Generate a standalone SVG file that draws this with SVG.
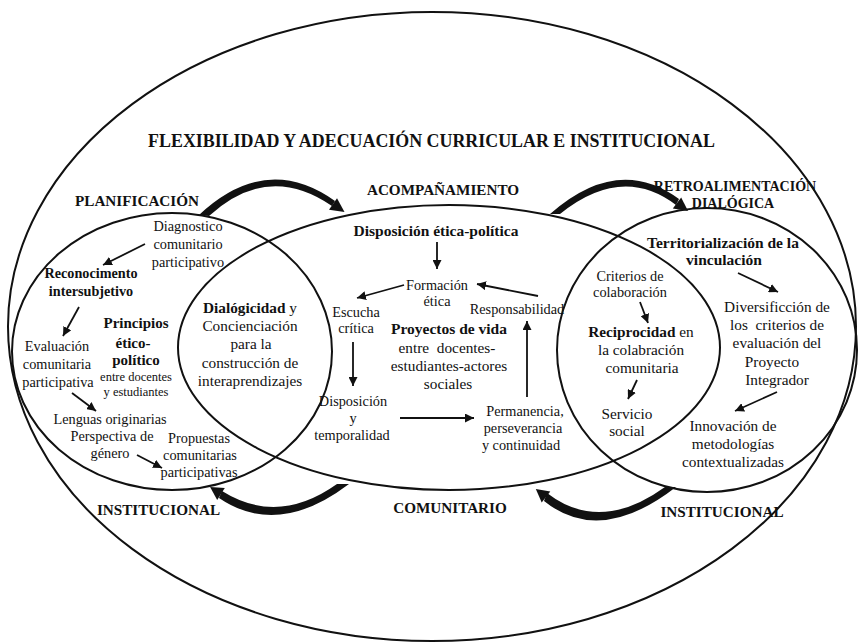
<svg xmlns="http://www.w3.org/2000/svg" width="859" height="643" viewBox="0 0 859 643">
<style>
text{font-family:"Liberation Serif","Times New Roman",serif;fill:#111;text-anchor:middle}
.b{font-weight:bold}
.h{font-weight:bold;font-size:15.2px}
.t14{font-size:14.3px}
.t15{font-size:15.3px}
.sm{font-size:12.5px}
.ring{fill:none;stroke:#111;stroke-width:2}
.ln{fill:none;stroke:#111;stroke-width:1.8;marker-end:url(#ah)}
.thick{fill:#111;stroke:none}
</style>
<defs>
<marker id="ah" markerUnits="userSpaceOnUse" markerWidth="10" markerHeight="9" refX="9" refY="4.5" orient="auto">
<path d="M0,0 L9,4.5 L0,9 z" fill="#111"/>
</marker>
</defs>
<rect width="859" height="643" fill="#fff"/>

<g id="outer">
<ellipse class="ring" cx="432" cy="326.5" rx="424" ry="314.5"/>
<text class="b" x="431.5" y="147" font-size="17.9">FLEXIBILIDAD Y ADECUACIÓN CURRICULAR E INSTITUCIONAL</text>
</g>

<g id="planificacion">
<ellipse class="ring" cx="172" cy="351.5" rx="160" ry="138.5"/>
<text class="h" x="137" y="206">PLANIFICACIÓN</text>
<text class="t14" x="188" y="231">Diagnostico</text>
<text class="t14" x="188" y="249">comunitario</text>
<text class="t14" x="188" y="267">participativo</text>
<text class="b" font-size="14.2" x="91" y="278">Reconocimento</text>
<text class="b" font-size="14.2" x="91" y="296">intersubjetivo</text>
<text class="b" font-size="15" x="136" y="328">Principios</text>
<text class="b" font-size="15" x="133" y="348">ético-</text>
<text class="b" font-size="15" x="136" y="365">político</text>
<text class="sm" x="136" y="381">entre docentes</text>
<text class="sm" x="136" y="396">y estudiantes</text>
<text class="t14" x="57" y="351">Evaluación</text>
<text class="t14" x="57" y="369">comunitaria</text>
<text class="t14" x="58" y="387">participativa</text>
<text class="t14" x="110" y="424">Lenguas originarias</text>
<text class="t14" x="112" y="441">Perspectiva de</text>
<text class="t14" x="110" y="458">género</text>
<text class="t14" x="199" y="443">Propuestas</text>
<text class="t14" x="200" y="460">comunitarias</text>
<text class="t14" x="199" y="477">participativas</text>
<text class="h" x="158.5" y="515">INSTITUCIONAL</text>
</g>

<g id="acompanamiento">
<ellipse class="ring" cx="449" cy="347.5" rx="271" ry="142.5"/>
<text class="h" x="443" y="195">ACOMPAÑAMIENTO</text>
<text class="b" font-size="15.5" x="436" y="236">Disposición ética-política</text>
<text class="t14" x="437" y="290">Formación</text>
<text class="t14" x="437" y="306">ética</text>
<text class="t14" x="356" y="317">Escucha</text>
<text class="t14" x="356" y="333">crítica</text>
<text class="t14" x="517" y="314">Responsabilidad</text>
<text class="b" font-size="15.5" x="449" y="334">Proyectos de vida</text>
<text class="t15" x="447" y="353" xml:space="preserve">entre  docentes-</text>
<text class="t15" x="449" y="371">estudiantes-actores</text>
<text class="t15" x="448" y="389">sociales</text>
<text class="t14" x="353" y="406">Disposición</text>
<text class="t14" x="353" y="423">y</text>
<text class="t14" x="352" y="440">temporalidad</text>
<text class="t14" x="525" y="416">Permanencia,</text>
<text class="t14" x="523" y="433">perseverancia</text>
<text class="t14" x="521" y="450">y continuidad</text>
<text class="h" x="450" y="513">COMUNITARIO</text>
</g>

<g id="dialogicidad">
<text class="t15" x="250" y="313"><tspan class="b">Dialógicidad</tspan> y</text>
<text class="t15" x="250" y="331">Concienciación</text>
<text class="t15" x="251" y="349">para la</text>
<text class="t15" x="250" y="368">construcción de</text>
<text class="t15" x="250" y="386">interaprendizajes</text>
</g>

<g id="retroalimentacion">
<ellipse class="ring" cx="707" cy="350" rx="150" ry="142"/>
<text class="b" font-size="14" x="735" y="191">RETROALIMENTACIÓN</text>
<text class="b" font-size="14" x="733" y="208">DIALÓGICA</text>
<text class="b" font-size="15.5" x="723" y="248">Territorialización de la</text>
<text class="b" font-size="15.5" x="724" y="265">vinculación</text>
<text class="t15" x="777" y="312">Diversificción de</text>
<text class="t15" x="777" y="330" xml:space="preserve">los  criterios de</text>
<text class="t15" x="777" y="348">evaluación del</text>
<text class="t15" x="772" y="367">Proyecto</text>
<text class="t15" x="777" y="385">Integrador</text>
<text class="t15" x="733" y="431">Innovación de</text>
<text class="t15" x="733" y="449">metodologías</text>
<text class="t15" x="733" y="467">contextualizadas</text>
<text class="h" x="722" y="517">INSTITUCIONAL</text>
</g>

<g id="reciprocidad">
<text class="t14" x="630" y="281">Criterios de</text>
<text class="t14" x="630" y="297">colaboración</text>
<text class="t15" x="641" y="337"><tspan class="b">Reciprocidad</tspan> en</text>
<text class="t15" x="641" y="355">la colabración</text>
<text class="t15" x="642" y="373">comunitaria</text>
<text class="t15" x="627" y="419">Servicio</text>
<text class="t15" x="627" y="436">social</text>
</g>

<g id="connectors">
<path class="ln" d="M145,244 L103,265"/>
<path class="ln" d="M79,307 L63,336"/>
<path class="ln" d="M72,393 L96,411"/>
<path class="ln" d="M137,455 L162,468"/>
<path class="ln" d="M437,242 L437,269"/>
<path class="ln" d="M404,285 L357,298"/>
<path class="ln" d="M538,296 L477,284"/>
<path class="ln" d="M353,342 L353,386"/>
<path class="ln" d="M400,418 L474,418"/>
<path class="ln" d="M527,397 L527,321"/>
<path class="ln" d="M640,302 L648,323"/>
<path class="ln" d="M637,380 L628,399"/>
<path class="ln" d="M738,273 L778,292"/>
<path class="ln" d="M777,392 L735,411"/>

<path class="thick" d="M199,215 Q266,152 335,201 L332,206 Q268,162 209,216 Z"/>
<polygon class="thick" points="329,209.7 337,198.3 344.5,212"/>

<path class="thick" d="M550,214 Q618,154 679,199 L676,205 Q622,164 560,214 Z"/>
<polygon class="thick" points="672.8,208.6 681.2,197.4 688,211"/>

<path class="thick" d="M349,484 Q278,538 219,498 L222,491 Q278,526 337,484 Z"/>
<polygon class="thick" points="224.8,488.1 217.2,499.9 210.1,486.9"/>

<path class="thick" d="M676,487 Q600,546 544,501 L547,493 Q600,534 665,487 Z"/>
<polygon class="thick" points="550.3,491.5 541.7,502.5 535.8,489"/>
</g>
</svg>
